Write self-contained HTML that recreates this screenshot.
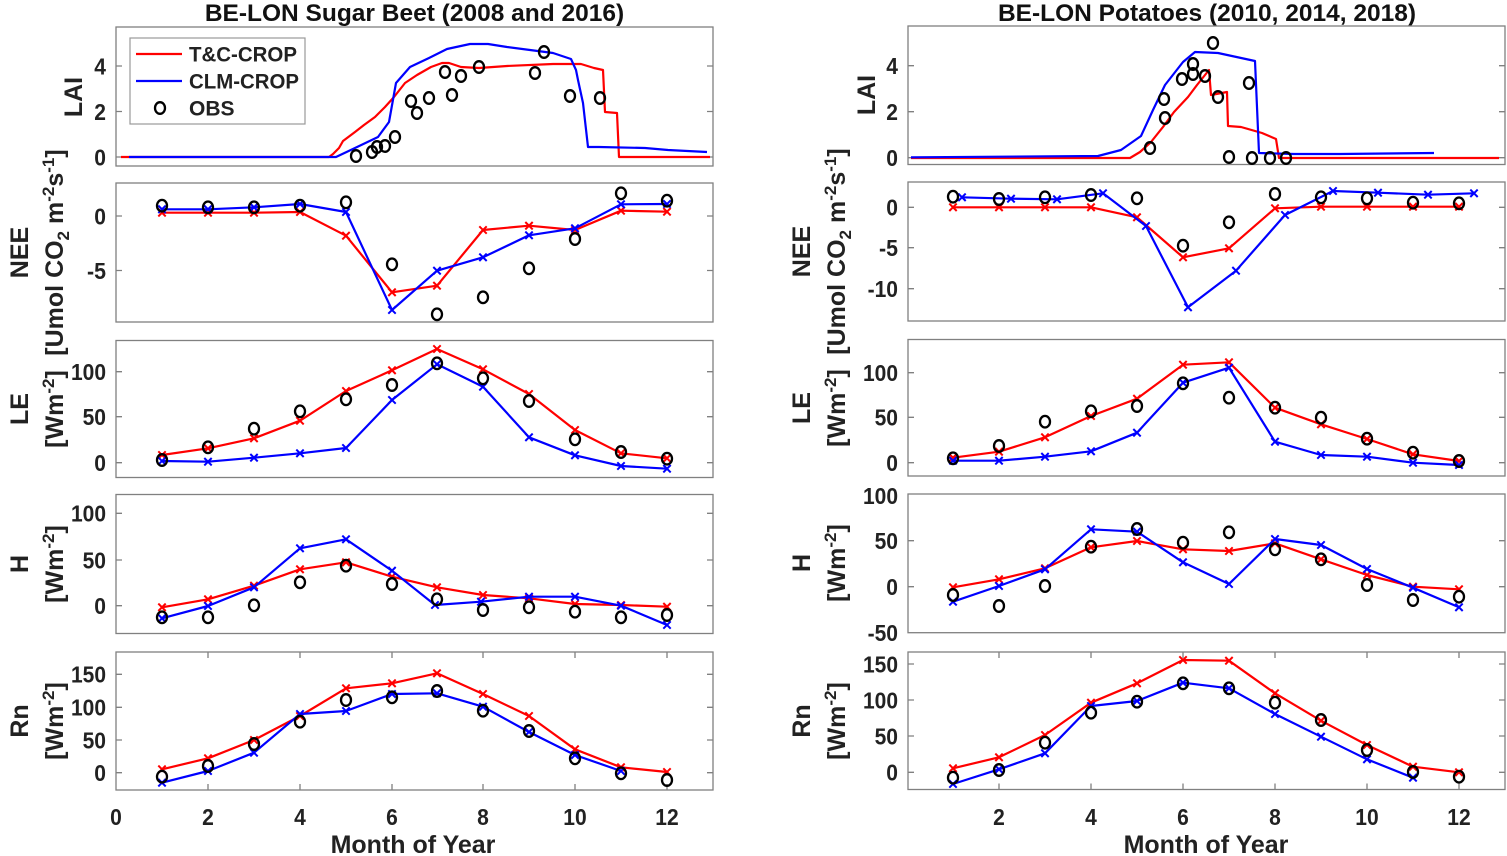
<!DOCTYPE html>
<html><head><meta charset="utf-8"><style>
body{margin:0;background:#fff}
svg{display:block}
text{font-family:"Liberation Sans",Arial,sans-serif;font-weight:bold;fill:#222}
.ax{fill:none;stroke:#808080;stroke-width:1.3}
.tk{fill:none;stroke:#808080;stroke-width:1.3}
.r{fill:none;stroke:#f00;stroke-width:2.2;stroke-linejoin:round}
.b{fill:none;stroke:#00f;stroke-width:2.2;stroke-linejoin:round}
.mr{marker-start:url(#xr);marker-mid:url(#xr);marker-end:url(#xr)}
.mb{marker-start:url(#xb);marker-mid:url(#xb);marker-end:url(#xb)}
.o{fill:none;stroke:none;marker-start:url(#ob);marker-mid:url(#ob);marker-end:url(#ob)}
.t{font-size:23.5px}
.yl{font-size:25px}
.ttl{font-size:24.5px;fill:#111}
</style></head><body>
<svg width="1507" height="856" viewBox="0 0 1507 856" xmlns="http://www.w3.org/2000/svg">
<defs>
<marker id="xr" markerUnits="userSpaceOnUse" markerWidth="12" markerHeight="12" viewBox="-6 -6 12 12" refX="0" refY="0" overflow="visible"><path d="M-3.7,-3.7L3.7,3.7M-3.7,3.7L3.7,-3.7" stroke="#f00" stroke-width="2" fill="none"/></marker>
<marker id="xb" markerUnits="userSpaceOnUse" markerWidth="12" markerHeight="12" viewBox="-6 -6 12 12" refX="0" refY="0" overflow="visible"><path d="M-3.7,-3.7L3.7,3.7M-3.7,3.7L3.7,-3.7" stroke="#00f" stroke-width="2" fill="none"/></marker>
<marker id="ob" markerUnits="userSpaceOnUse" markerWidth="16" markerHeight="16" viewBox="-8 -8 16 16" refX="0" refY="0" overflow="visible"><ellipse cx="0" cy="0" rx="5" ry="5.8" fill="none" stroke="#000" stroke-width="2.3"/></marker>
</defs>
<rect width="1507" height="856" fill="#fff"/>

<!-- Titles -->
<text class="ttl" x="414.5" y="21" text-anchor="middle">BE-LON Sugar Beet (2008 and 2016)</text>
<text class="ttl" x="1207" y="21" text-anchor="middle">BE-LON Potatoes (2010, 2014, 2018)</text>

<!-- ===== LEFT COLUMN ===== -->
<rect class="ax" x="116" y="27" width="597" height="139"/>
<rect class="ax" x="116" y="183" width="597" height="139"/>
<rect class="ax" x="116" y="340.5" width="597" height="137"/>
<rect class="ax" x="116" y="494.5" width="597" height="139"/>
<rect class="ax" x="116" y="652" width="597" height="138"/>
<path class="tk" d="M116,157h6M713,157h-6M116,111.5h6M713,111.5h-6M116,66h6M713,66h-6
M116,216h6M713,216h-6M116,270.5h6M713,270.5h-6
M116,462.7h6M713,462.7h-6M116,416.7h6M713,416.7h-6M116,371.7h6M713,371.7h-6
M116,605.7h6M713,605.7h-6M116,560h6M713,560h-6M116,513.3h6M713,513.3h-6
M116,772.7h6M713,772.7h-6M116,740h6M713,740h-6M116,707.3h6M713,707.3h-6M116,674.3h6M713,674.3h-6
M208,790v-6M300,790v-6M392,790v-6M483,790v-6M575,790v-6M667,790v-6
M208,652v6M300,652v6M392,652v6M483,652v6M575,652v6M667,652v6"/>
<g class="t" text-anchor="end">
<text x="106" y="165.3" textLength="11.7" lengthAdjust="spacingAndGlyphs">0</text><text x="106" y="119.8" textLength="11.7" lengthAdjust="spacingAndGlyphs">2</text><text x="106" y="74.3" textLength="11.7" lengthAdjust="spacingAndGlyphs">4</text>
<text x="106" y="224.3" textLength="11.7" lengthAdjust="spacingAndGlyphs">0</text><text x="106" y="278.8" textLength="19" lengthAdjust="spacingAndGlyphs">-5</text>
<text x="106" y="471" textLength="11.7" lengthAdjust="spacingAndGlyphs">0</text><text x="106" y="425" textLength="23.4" lengthAdjust="spacingAndGlyphs">50</text><text x="106" y="380" textLength="35" lengthAdjust="spacingAndGlyphs">100</text>
<text x="106" y="614" textLength="11.7" lengthAdjust="spacingAndGlyphs">0</text><text x="106" y="568.3" textLength="23.4" lengthAdjust="spacingAndGlyphs">50</text><text x="106" y="521.6" textLength="35" lengthAdjust="spacingAndGlyphs">100</text>
<text x="106" y="781" textLength="11.7" lengthAdjust="spacingAndGlyphs">0</text><text x="106" y="748.3" textLength="23.4" lengthAdjust="spacingAndGlyphs">50</text><text x="106" y="715.6" textLength="35" lengthAdjust="spacingAndGlyphs">100</text><text x="106" y="682.6" textLength="35" lengthAdjust="spacingAndGlyphs">150</text>
</g>
<g class="t" text-anchor="middle">
<text x="116" y="825" textLength="11.7" lengthAdjust="spacingAndGlyphs">0</text><text x="208" y="825" textLength="11.7" lengthAdjust="spacingAndGlyphs">2</text><text x="300" y="825" textLength="11.7" lengthAdjust="spacingAndGlyphs">4</text><text x="392" y="825" textLength="11.7" lengthAdjust="spacingAndGlyphs">6</text><text x="483" y="825" textLength="11.7" lengthAdjust="spacingAndGlyphs">8</text><text x="575" y="825" textLength="23.4" lengthAdjust="spacingAndGlyphs">10</text><text x="667" y="825" textLength="23.4" lengthAdjust="spacingAndGlyphs">12</text>
</g>
<text class="yl" x="413" y="853" text-anchor="middle">Month of Year</text>
<text class="yl" x="82" y="97" text-anchor="middle" transform="rotate(-90 82 97)">LAI</text>
<text class="yl" x="28" y="252.5" text-anchor="middle" transform="rotate(-90 28 252.5)">NEE</text>
<text class="yl" x="63" y="252.5" text-anchor="middle" transform="rotate(-90 63 252.5)">[Umol CO<tspan font-size="17" dy="6">2</tspan><tspan dy="-6"> m</tspan><tspan font-size="17" dy="-9">-2</tspan><tspan dy="9">s</tspan><tspan font-size="17" dy="-9">-1</tspan><tspan dy="9">]</tspan></text>
<text class="yl" x="28" y="409" text-anchor="middle" transform="rotate(-90 28 409)">LE</text>
<text class="yl" x="63" y="409" text-anchor="middle" transform="rotate(-90 63 409)">[Wm<tspan font-size="17" dy="-9">-2</tspan><tspan dy="9">]</tspan></text>
<text class="yl" x="28" y="564" text-anchor="middle" transform="rotate(-90 28 564)">H</text>
<text class="yl" x="63" y="564" text-anchor="middle" transform="rotate(-90 63 564)">[Wm<tspan font-size="17" dy="-9">-2</tspan><tspan dy="9">]</tspan></text>
<text class="yl" x="28" y="721" text-anchor="middle" transform="rotate(-90 28 721)">Rn</text>
<text class="yl" x="63" y="721" text-anchor="middle" transform="rotate(-90 63 721)">[Wm<tspan font-size="17" dy="-9">-2</tspan><tspan dy="9">]</tspan></text>

<!-- Left LAI -->
<polyline class="r" points="121,157 329,157 333,154 339,148 343,141 355,132 364,125 375,117 385,107 394,97 405,83 417,75 431,67 442,63 449,63 461,67 479,68 507,66 553,64 581,64 594,68 603,70 605,112 617,113 619,157 710,157"/>
<polyline class="b" points="129,157 336,157 355,148 378,137 389,122 396,83 410,67 429,58 447,49 470,44 488,44 507,47 530,50 553,53 571,59 576,70 578,80 583,103 588,147 599,147 645,148 668,150 707,152"/>
<polyline class="o" points="356,156 372,152 377,147 385,146 395,137 411,101 417,113 429,98 445,72 452,95 461,76 479,67 535,73 544,52 570,96 600,98"/>
<rect x="130" y="38" width="175" height="86" fill="#fff" stroke="#999" stroke-width="1.2"/>
<line x1="136" y1="54" x2="182" y2="54" stroke="#f00" stroke-width="2.2"/>
<line x1="136" y1="81" x2="182" y2="81" stroke="#00f" stroke-width="2.2"/>
<ellipse cx="160" cy="108" rx="5" ry="5.8" fill="none" stroke="#000" stroke-width="2.3"/>
<g style="font-size:21px">
<text x="189" y="61.5" textLength="108" lengthAdjust="spacingAndGlyphs">T&amp;C-CROP</text>
<text x="189" y="88.5" textLength="110" lengthAdjust="spacingAndGlyphs">CLM-CROP</text>
<text x="189" y="115.5">OBS</text>
</g>

<!-- Left NEE -->
<polyline class="r mr" points="162,212.7 208,212.7 254,212.7 300,212 346,235.7 392,292.3 437,285.7 483,230 529,225.7 575,230 621,210.7 667,211.7"/>
<polyline class="b mb" points="162,209.3 208,209.3 254,207.3 300,204 346,212 392,310 437,270.7 483,257.3 529,235.3 575,228.3 621,204.3 667,204"/>
<polyline class="o" points="162,205.7 208,207.3 254,207.3 300,205.7 346,202.3 392,264.3 437,314.3 483,297.3 529,268.3 575,239 621,193.3 667,200.7"/>

<!-- Left LE -->
<polyline class="r mr" points="162,455 208,448.3 254,438.3 300,420.7 346,391 392,370.3 437,349 483,369.3 529,394 575,430 621,453.3 667,458.3"/>
<polyline class="b mb" points="162,461 208,461.7 254,457.7 300,453.3 346,448 392,400 437,364.3 483,386.7 529,437.3 575,455.3 621,466 667,468.7"/>
<polyline class="o" points="162,460 208,447.3 254,428.7 300,411.3 346,399.3 392,385 437,363.3 483,378.3 529,401 575,439.3 621,452 667,458.7"/>

<!-- Left H -->
<polyline class="r mr" points="162,607.3 208,599.3 254,585.7 300,569.3 346,562.3 392,576.7 437,587.3 483,595 529,598.3 575,604 621,605 667,606.7"/>
<polyline class="b mb" points="162,618.3 208,606 254,587.3 300,548.3 346,539.3 392,570.7 435,605 481,601.7 529,596.7 575,596.7 621,605.7 667,625"/>
<polyline class="o" points="162,617.3 208,617.3 254,605.3 300,582.3 346,565.7 392,584 437,599.3 483,610 529,607.3 575,611.7 621,617.3 667,615"/>

<!-- Left Rn -->
<polyline class="r mr" points="162,769.3 208,758.3 254,740 300,716 346,688.3 392,683.3 437,673.3 483,694 529,716 575,749.3 621,767.3 667,772"/>
<polyline class="b mb" points="162,782.7 208,771 254,752.7 300,714 346,711 392,694 437,693.3 483,706.7 529,732 575,755 621,771"/>
<polyline class="o" points="162,776.7 208,766 254,744 300,721.7 346,700 392,697.3 437,691 483,710.7 529,731 575,758.3 621,773.3 667,780"/>

<!-- ===== RIGHT COLUMN ===== -->
<rect class="ax" x="908" y="26" width="597" height="138.5"/>
<rect class="ax" x="908" y="182" width="597" height="139"/>
<rect class="ax" x="908" y="339.5" width="597" height="136.5"/>
<rect class="ax" x="908" y="494" width="597" height="138.7"/>
<rect class="ax" x="908" y="652" width="597" height="137.5"/>
<path class="tk" d="M908,157.7h6M1505,157.7h-6M908,111.7h6M1505,111.7h-6M908,65.7h6M1505,65.7h-6
M908,207.3h6M1505,207.3h-6M908,247.7h6M1505,247.7h-6M908,288.7h6M1505,288.7h-6
M908,462.7h6M1505,462.7h-6M908,417.3h6M1505,417.3h-6M908,372.7h6M1505,372.7h-6
M908,586.7h6M1505,586.7h-6M908,540.7h6M1505,540.7h-6
M908,772.3h6M1505,772.3h-6M908,736h6M1505,736h-6M908,700h6M1505,700h-6M908,664h6M1505,664h-6
M999,789.5v-6M1091,789.5v-6M1183,789.5v-6M1275,789.5v-6M1367,789.5v-6M1459,789.5v-6
M999,652v6M1091,652v6M1183,652v6M1275,652v6M1367,652v6M1459,652v6"/>
<g class="t" text-anchor="end">
<text x="898" y="166" textLength="11.7" lengthAdjust="spacingAndGlyphs">0</text><text x="898" y="120" textLength="11.7" lengthAdjust="spacingAndGlyphs">2</text><text x="898" y="74" textLength="11.7" lengthAdjust="spacingAndGlyphs">4</text>
<text x="898" y="215.6" textLength="11.7" lengthAdjust="spacingAndGlyphs">0</text><text x="898" y="256" textLength="19" lengthAdjust="spacingAndGlyphs">-5</text><text x="898" y="297" textLength="30.4" lengthAdjust="spacingAndGlyphs">-10</text>
<text x="898" y="471" textLength="11.7" lengthAdjust="spacingAndGlyphs">0</text><text x="898" y="425.6" textLength="23.4" lengthAdjust="spacingAndGlyphs">50</text><text x="898" y="381" textLength="35" lengthAdjust="spacingAndGlyphs">100</text>
<text x="898" y="595" textLength="11.7" lengthAdjust="spacingAndGlyphs">0</text><text x="898" y="549" textLength="23.4" lengthAdjust="spacingAndGlyphs">50</text><text x="898" y="504" textLength="35" lengthAdjust="spacingAndGlyphs">100</text><text x="898" y="641" textLength="30.4" lengthAdjust="spacingAndGlyphs">-50</text>
<text x="898" y="780.6" textLength="11.7" lengthAdjust="spacingAndGlyphs">0</text><text x="898" y="744.3" textLength="23.4" lengthAdjust="spacingAndGlyphs">50</text><text x="898" y="708.3" textLength="35" lengthAdjust="spacingAndGlyphs">100</text><text x="898" y="672.3" textLength="35" lengthAdjust="spacingAndGlyphs">150</text>
</g>
<g class="t" text-anchor="middle">
<text x="999" y="825" textLength="11.7" lengthAdjust="spacingAndGlyphs">2</text><text x="1091" y="825" textLength="11.7" lengthAdjust="spacingAndGlyphs">4</text><text x="1183" y="825" textLength="11.7" lengthAdjust="spacingAndGlyphs">6</text><text x="1275" y="825" textLength="11.7" lengthAdjust="spacingAndGlyphs">8</text><text x="1367" y="825" textLength="23.4" lengthAdjust="spacingAndGlyphs">10</text><text x="1459" y="825" textLength="23.4" lengthAdjust="spacingAndGlyphs">12</text>
</g>
<text class="yl" x="1206" y="853" text-anchor="middle">Month of Year</text>
<text class="yl" x="875" y="95" text-anchor="middle" transform="rotate(-90 875 95)">LAI</text>
<text class="yl" x="810" y="251.5" text-anchor="middle" transform="rotate(-90 810 251.5)">NEE</text>
<text class="yl" x="845" y="251.5" text-anchor="middle" transform="rotate(-90 845 251.5)">[Umol CO<tspan font-size="17" dy="6">2</tspan><tspan dy="-6"> m</tspan><tspan font-size="17" dy="-9">-2</tspan><tspan dy="9">s</tspan><tspan font-size="17" dy="-9">-1</tspan><tspan dy="9">]</tspan></text>
<text class="yl" x="810" y="408" text-anchor="middle" transform="rotate(-90 810 408)">LE</text>
<text class="yl" x="845" y="408" text-anchor="middle" transform="rotate(-90 845 408)">[Wm<tspan font-size="17" dy="-9">-2</tspan><tspan dy="9">]</tspan></text>
<text class="yl" x="810" y="563" text-anchor="middle" transform="rotate(-90 810 563)">H</text>
<text class="yl" x="845" y="563" text-anchor="middle" transform="rotate(-90 845 563)">[Wm<tspan font-size="17" dy="-9">-2</tspan><tspan dy="9">]</tspan></text>
<text class="yl" x="810" y="721" text-anchor="middle" transform="rotate(-90 810 721)">Rn</text>
<text class="yl" x="845" y="721" text-anchor="middle" transform="rotate(-90 845 721)">[Wm<tspan font-size="17" dy="-9">-2</tspan><tspan dy="9">]</tspan></text>

<!-- Right LAI -->
<polyline class="r" points="911,158 1130,158 1140,152 1151,142 1163,127 1174,112 1188,97 1197,85 1209,70 1211,95 1227,92 1228,126 1241,127 1262,133 1276,139 1279,158 1499,158"/>
<polyline class="b" points="911,157.3 1098,156 1121,150 1141,136 1153,110 1165,85 1183,62 1195,52 1218,53 1255,61 1259,153 1294,154 1340,154 1434,153"/>
<polyline class="o" points="1150,148 1164,99 1165,118 1182,79 1193,74 1193,64 1205,76 1213,43 1218,97 1229,157 1249,83 1252,158 1270,158 1286,158"/>

<!-- Right NEE -->
<polyline class="r mr" points="953,207.3 999,207.3 1045,207.3 1091,207.3 1137,217.3 1183,257.3 1229,248.3 1275,208.3 1321,206.7 1367,206.7 1413,206.7 1459,206.7"/>
<polyline class="b mb" points="962,197.3 1011,198.7 1057,199.3 1103,193.3 1146,226 1188,307.3 1236,270.7 1285,215 1333,191 1378,192.7 1428,194.7 1474,193.3"/>
<polyline class="o" points="953,196.7 999,199 1045,197.3 1091,195 1137,198.3 1183,245.7 1229,222.3 1275,194 1321,197.3 1367,198.3 1413,202.7 1459,203.3"/>

<!-- Right LE -->
<polyline class="r mr" points="953,457.7 999,451.7 1045,437.3 1091,416 1137,398.7 1183,364.7 1229,362.3 1275,407.7 1321,424.3 1367,439 1413,454.3 1459,461"/>
<polyline class="b mb" points="953,460.7 999,460.7 1045,456.7 1091,451.3 1137,432.7 1183,382.7 1229,367.7 1275,441.7 1321,455 1367,456.7 1413,462.7 1459,465"/>
<polyline class="o" points="953,458.3 999,446 1045,421.7 1091,411.3 1137,406 1183,383.3 1229,397.7 1275,407.7 1321,417.7 1367,438.7 1413,452.7 1459,461"/>

<!-- Right H -->
<polyline class="r mr" points="953,587.3 999,579.3 1045,568.3 1091,547.3 1137,541 1183,549.3 1229,551 1275,543.3 1321,559.3 1367,575 1413,586.7 1459,589.3"/>
<polyline class="b mb" points="953,601.7 999,586 1045,569.3 1091,529.3 1137,531.7 1183,562.3 1229,584 1275,539 1321,545 1367,569 1413,587.7 1459,607.3"/>
<polyline class="o" points="953,595 999,606 1045,586 1091,546.7 1137,529 1183,542.7 1229,532.3 1275,549.3 1321,559.3 1367,585 1413,600 1459,596.7"/>

<!-- Right Rn -->
<polyline class="r mr" points="953,768.3 999,757.3 1045,735 1091,702.7 1137,683.3 1183,660 1229,660.7 1275,693.3 1321,720.7 1367,745 1413,766.7 1459,772.3"/>
<polyline class="b mb" points="953,784 999,769.3 1045,753.3 1091,706 1137,701 1183,682.7 1229,688.3 1275,714 1321,736.7 1367,759.3 1413,777.7"/>
<polyline class="o" points="953,777.7 999,770 1045,742.7 1091,712.7 1137,701.7 1183,683.3 1229,688.3 1275,702.7 1321,720 1367,750 1413,772 1459,776.7"/>
</svg>
</body></html>
